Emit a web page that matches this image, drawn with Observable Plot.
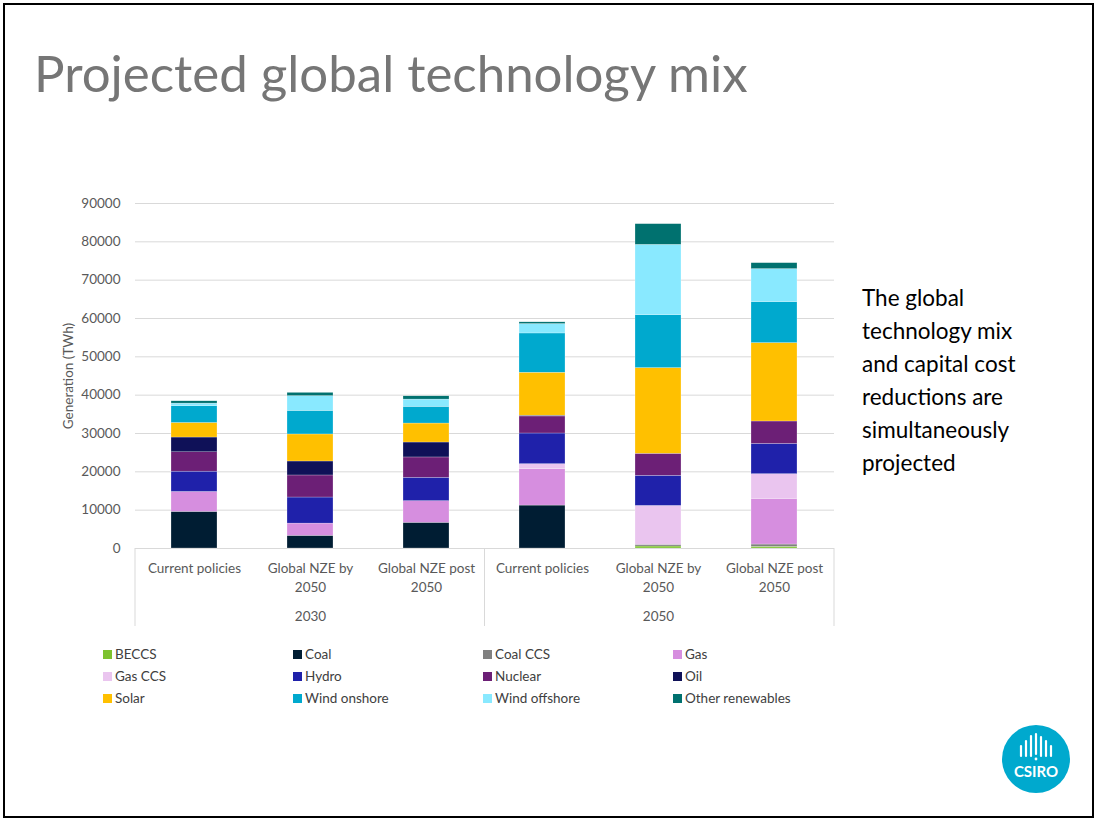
<!DOCTYPE html>
<html><head><meta charset="utf-8">
<script src="https://cdn.jsdelivr.net/npm/d3@7"></script>
<script src="https://cdn.jsdelivr.net/npm/@observablehq/plot@0.6"></script>
<style>
body{margin:0;background:#fff;font-family:Lato,"Open Sans",sans-serif;}
#slide{position:relative;width:1097px;height:820px;overflow:hidden;background:#fff}
#frame{position:absolute;left:3px;top:3px;width:1091px;height:815px;border:2px solid #000;box-sizing:border-box}
#title{position:absolute;left:34px;top:47px;font-size:51px;line-height:1;font-weight:400;color:#767676;white-space:nowrap}
#side{position:absolute;left:862px;top:281px;font-size:22.5px;line-height:33px;color:#000;white-space:nowrap}
#chart{position:absolute;left:40px;top:190px}
#legend{position:absolute;left:103px;top:643px;display:grid;grid-template-columns:190px 190px 190px 190px;grid-auto-rows:22px;font-size:13.5px;color:#404040}
#legend .item{display:flex;align-items:center;white-space:nowrap}
#legend .sw{width:9px;height:9px;margin-right:3px;flex:none}
#logo{position:absolute;left:1001px;top:724px}
</style></head>
<body>
<div id="slide">
  <div id="frame"></div>
  <div id="title">Projected global technology mix</div>
  <div id="side">The global<br>technology mix<br>and capital cost<br>reductions are<br>simultaneously<br>projected</div>
  <div id="chart"></div>
  <div id="legend"></div>
  <svg id="logo" width="70" height="70" viewBox="0 0 70 70">
    <circle cx="35" cy="35" r="34" fill="#00A9CE"/>
    <g stroke="#fff" stroke-width="2.2" stroke-linecap="round">
      <line x1="20" y1="22" x2="20" y2="32"/>
      <line x1="25" y1="17" x2="25" y2="32"/>
      <line x1="30" y1="12" x2="30" y2="32"/>
      <line x1="35" y1="10" x2="35" y2="30"/>
      <line x1="40" y1="13" x2="40" y2="32"/>
      <line x1="45" y1="17" x2="45" y2="32"/>
      <line x1="50" y1="22" x2="50" y2="32"/>
    </g>
    <circle cx="35" cy="35" r="1.4" fill="#fff"/>
    <text x="35" y="53" text-anchor="middle" fill="#fff" font-family="Lato, sans-serif" font-weight="bold" font-size="15">CSIRO</text>
  </svg>
</div>
<script>
// ---- data ----
const years = ["2030", "2050"];
const scenarios = ["Current policies", "Global NZE by\n2050", "Global NZE post\n2050"];
const techs = ["BECCS", "Coal", "Coal CCS", "Gas", "Gas CCS", "Hydro", "Nuclear", "Oil", "Solar", "Wind onshore", "Wind offshore", "Other renewables"];
const techColors = ["#7DC22F", "#001D33", "#808080", "#D68EDF", "#EAC5EF", "#1F21AA", "#6C1F76", "#0F1158", "#FFC000", "#00A9CE", "#89E9FF", "#00716F"];
// values per column: 2030 CP, 2030 NZE by 2050, 2030 NZE post 2050, 2050 CP, 2050 NZE by 2050, 2050 NZE post 2050 (TWh)
const beccs         = [0, 0, 0, 0, 520, 435];
const coal          = [9550, 3300, 6700, 11200, 0, 0];
const coalCCS       = [0, 0, 0, 0, 440, 600];
const gas           = [5200, 3200, 5650, 9500, 0, 11900];
const gasCCS        = [0, 0, 0, 1300, 10150, 6450];
const hydro         = [5300, 6800, 6100, 8000, 7850, 7900];
const nuclear       = [5050, 5750, 5300, 4450, 5750, 5850];
const oil           = [3850, 3650, 3900, 200, 0, 0];
const solar         = [3800, 7050, 4950, 11200, 22350, 20450];
const windOnshore   = [4350, 6150, 4350, 10250, 13800, 10700];
const windOffshore  = [700, 3850, 1900, 2450, 18350, 8600];
const otherRenew    = [600, 850, 850, 450, 5400, 1550];
const yTicks = [0, 10000, 20000, 30000, 40000, 50000, 60000, 70000, 80000, 90000];

const series = [beccs, coal, coalCCS, gas, gasCCS, hydro, nuclear, oil, solar, windOnshore, windOffshore, otherRenew];
const cols = [];
years.forEach((yr, yi) => scenarios.forEach((sc, si) => cols.push({key: yr + "|" + sc, year: yr, scenario: sc, yi, si})));
const keys = cols.map(c => c.key);
const data = [];
series.forEach((vals, ti) => vals.forEach((v, ci) => data.push({key: keys[ci], tech: techs[ti], value: v})));
const groups = years.map((yr, yi) => ({key: keys[yi * scenarios.length + 1], year: yr}));

const chart = Plot.plot({
  width: 810, height: 448,
  marginLeft: 95, marginRight: 16, marginTop: 13, marginBottom: 90,
  style: {fontFamily: "Lato, 'Open Sans', sans-serif", fontSize: "13px", color: "#595959", background: "transparent", overflow: "visible"},
  x: {domain: keys, paddingInner: 0.6, paddingOuter: 0.3, axis: null},
  y: {domain: [0, 90000], axis: null},
  color: {domain: techs, range: techColors},
  marks: [
    Plot.gridY(yTicks, {stroke: "#d9d9d9", strokeOpacity: 1, strokeWidth: 1}),
    Plot.axisY(yTicks, {tickSize: 0, tickPadding: 15, tickFormat: d => String(d), fill: "#595959", fontSize: 13.5, label: "Generation (TWh)", labelAnchor: "center", labelOffset: 72, labelArrow: "none"}),
    Plot.barY(data, {x: "key", y: "value", fill: "tech", stroke: "#fff", strokeWidth: 0.4, strokeOpacity: 0.6}),
    Plot.text(cols, {x: "key", text: "scenario", frameAnchor: "bottom", lineAnchor: "top", dy: 11, lineHeight: 1.4, fill: "#595959", fontSize: 13.5}),
    Plot.text(groups, {x: "key", text: "year", frameAnchor: "bottom", lineAnchor: "middle", dy: 68, fill: "#595959", fontSize: 13.5})
  ]
});

// category separators of the two-level axis, placed from the x scale
const xs = chart.scale("x");
const ys = chart.scale("y");
const n = keys.length;
const step = (xs.range[1] - xs.range[0]) / (n - 0.6 + 2 * 0.3);
const seps = [0, scenarios.length, n].map(i => xs.range[0] + i * step);
const y0 = ys.apply(0);
d3.select(chart).append("g")
  .selectAll("line").data(seps).join("line")
  .attr("x1", d => d).attr("x2", d => d)
  .attr("y1", y0).attr("y2", y0 + 78)
  .attr("stroke", "#d9d9d9");

document.getElementById("chart").append(chart);

// legend
const leg = d3.select("#legend");
techs.forEach((t, i) => {
  const it = leg.append("div").attr("class", "item");
  it.append("div").attr("class", "sw").style("background", techColors[i]);
  it.append("span").text(t);
});
</script>
</body></html>
